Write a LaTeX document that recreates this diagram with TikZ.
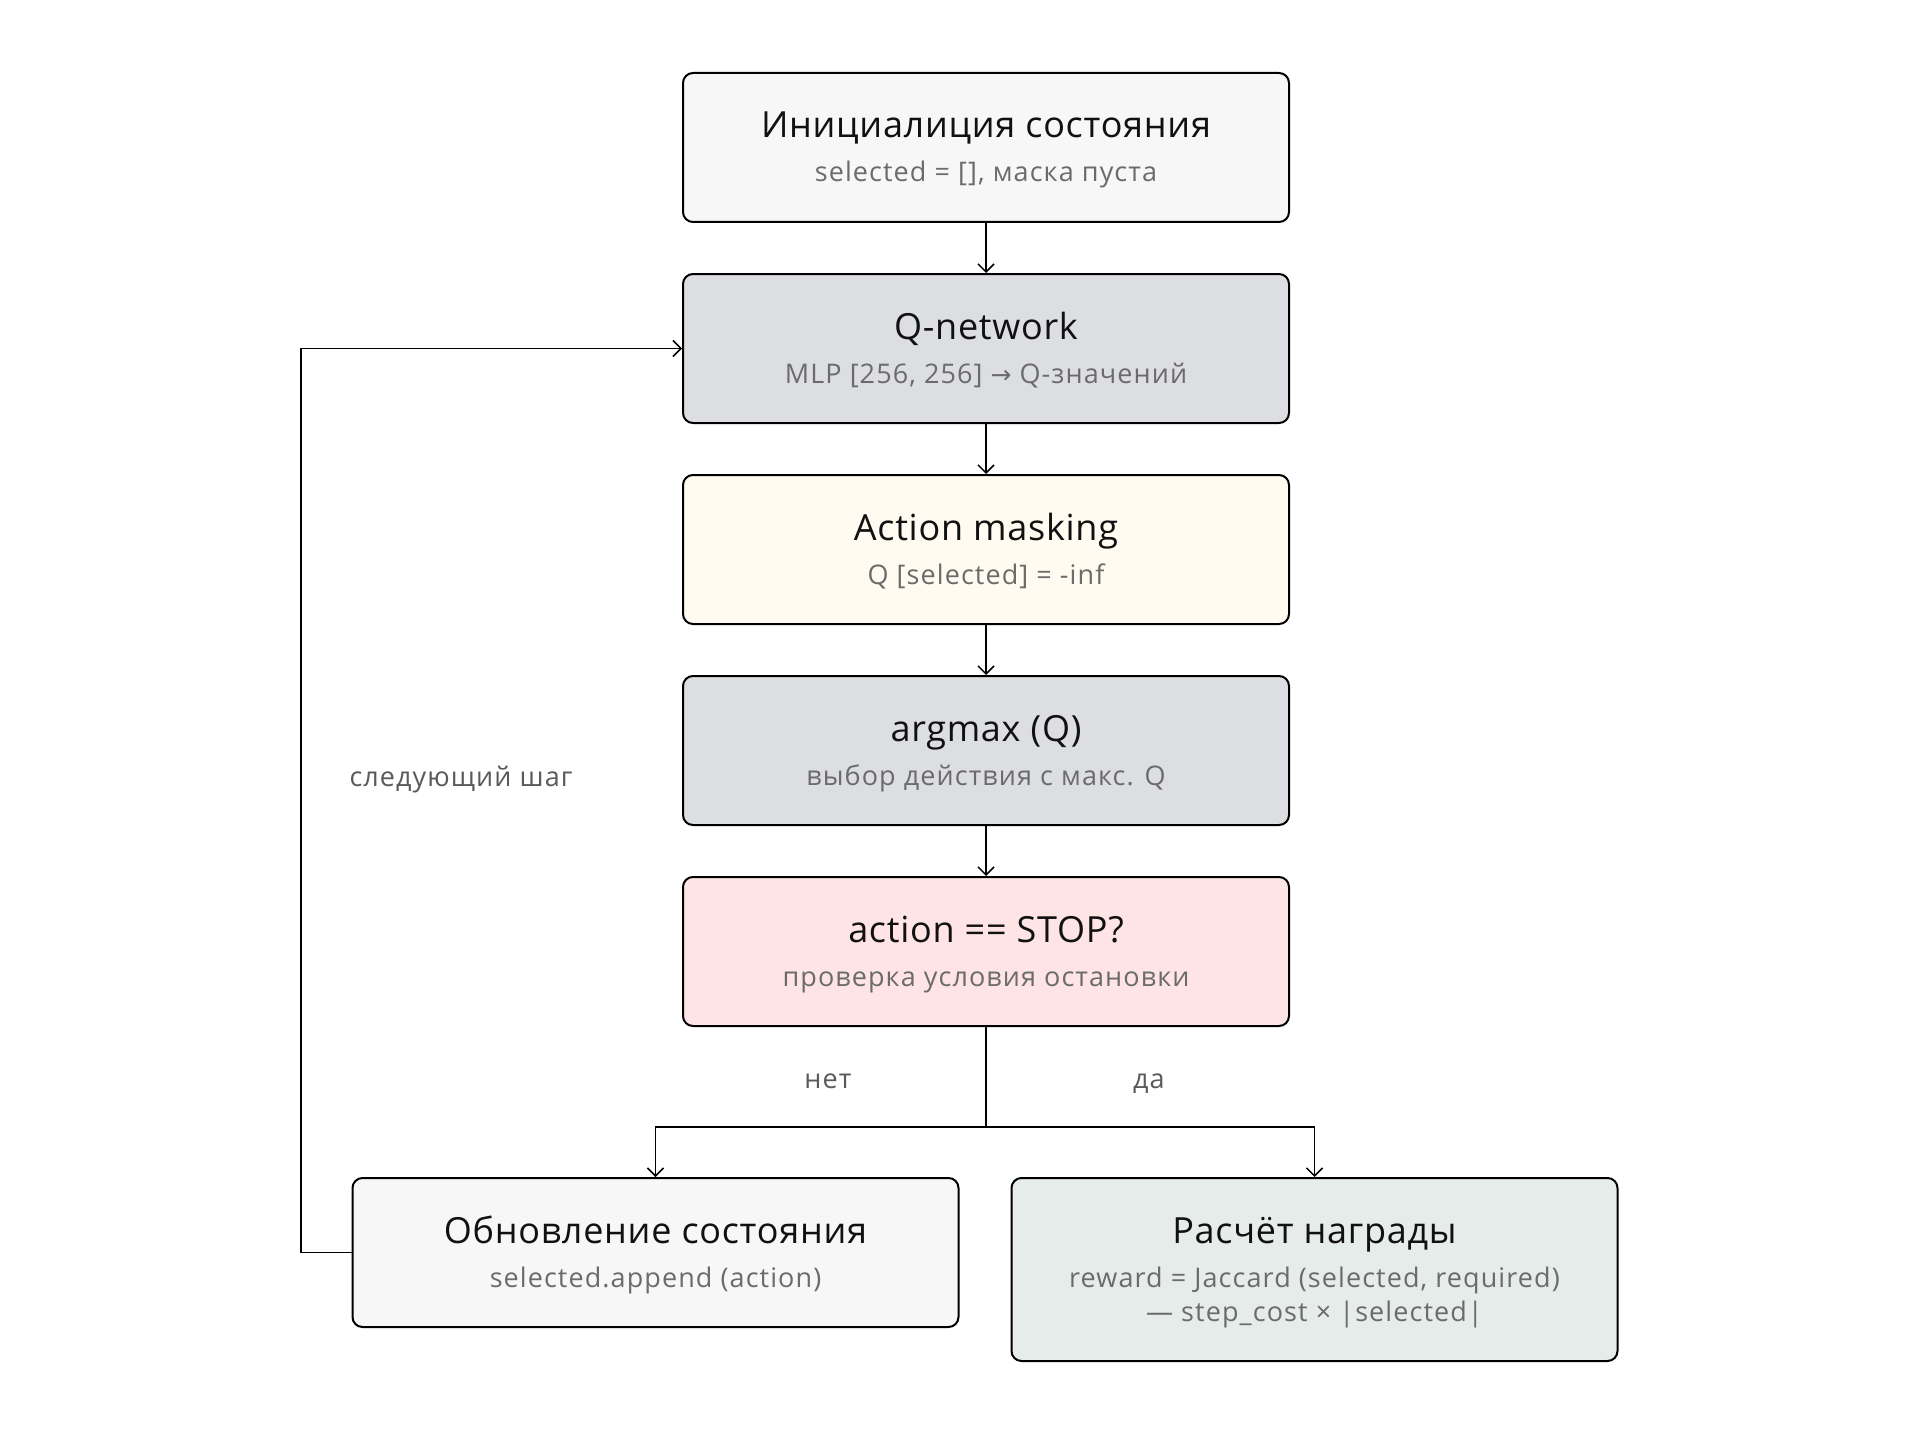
\documentclass[tikz,border=0pt]{standalone}
\usepackage{fontspec}
\setmainfont{Open Sans}
\newfontfamily\ttlfont[LetterSpace=2]{Open Sans}
\newfontfamily\subfont[LetterSpace=4]{Open Sans}
\newfontfamily\symfont{DejaVu Sans}
\usetikzlibrary{arrows.meta,calc}
\definecolor{fillA}{HTML}{F7F7F7}
\definecolor{fillQ}{HTML}{DDDEE2}
\definecolor{fillM}{HTML}{FFFBF0}
\definecolor{fillS}{HTML}{FFE4E6}
\definecolor{fillR}{HTML}{E6ECEA}
\definecolor{subgray}{HTML}{6B6B6B}
\definecolor{lblgray}{HTML}{5A5A5A}
\definecolor{ttlblack}{HTML}{111111}
\tikzset{
  box/.style={draw=black, line width=2pt, rounded corners=10pt, minimum width=606pt, minimum height=149pt, inner sep=0pt},
  ttl/.style={font=\ttlfont\fontsize{36}{40}\selectfont, text=ttlblack, anchor=base, inner sep=0pt},
  sub/.style={font=\subfont\fontsize{27}{30}\selectfont, text=subgray, anchor=base, inner sep=0pt},
  lbl/.style={font=\subfont\fontsize{27}{30}\selectfont, text=lblgray, inner sep=0pt},
  conn/.style={draw=black, line width=1.5pt, -{Straight Barb[length=8pt,width=16pt,line width=1.5pt]}},
  plainline/.style={draw=black, line width=1.5pt}
}
\begin{document}
\begin{tikzpicture}[x=1pt,y=-1pt]
\useasboundingbox[fill=white] (0,0) rectangle (1920,1434);

\node[box, fill=fillA] (init) at (986,147.5) {};
\node[box, fill=fillQ] (qnet) at (986,348.5) {};
\node[box, fill=fillM] (mask) at (986,549.5) {};
\node[box, fill=fillQ] (amax) at (986,750.5) {};
\node[box, fill=fillS] (stop) at (986,951.5) {};
\node[box, fill=fillA] (upd) at (655.5,1252.5) {};
\node[box, fill=fillR, minimum height=183pt] (rew) at (1314.5,1269.5) {};

\node[ttl] (initT) at ($(init.north)+(0,66)$) {Инициалиция состояния};
\node[sub] (initS) at ($(init.north)+(0,110)$) {selected = [], маска пуста};
\node[ttl] (qnetT) at ($(qnet.north)+(0,66)$) {Q-network};
\node[sub] (qnetS) at ($(qnet.north)+(0,110)$) {MLP [256, 256] {\symfont\fontsize{25}{30}\selectfont→} Q-значений};
\node[ttl] (maskT) at ($(mask.north)+(0,66)$) {Action masking};
\node[sub] (maskS) at ($(mask.north)+(0,110)$) {Q [selected] = -inf};
\node[ttl] (amaxT) at ($(amax.north)+(0,66)$) {argmax (Q)};
\node[sub] (amaxS) at ($(amax.north)+(0,110)$) {выбор действия с макс. Q};
\node[ttl] (stopT) at ($(stop.north)+(0,66)$) {action == STOP?};
\node[sub] (stopS) at ($(stop.north)+(0,110)$) {проверка условия остановки};
\node[ttl] (updT) at ($(upd.north)+(0,66)$) {Обновление состояния};
\node[sub] (updS) at ($(upd.north)+(0,110)$) {selected.append (action)};
\node[ttl] (rewT) at ($(rew.north)+(0,66)$) {Расчёт награды};
\node[sub] (rewS1) at ($(rew.north)+(0,110)$) {reward = Jaccard (selected, required)};
\node[sub] (rewS2) at ($(rew.north)+(0,144)$) {— step\_cost × |selected|};

\coordinate (br) at (986,1127);
\coordinate (loopx) at (301,0);

\draw[conn] (init.south) -- (qnet.north);
\draw[conn] (qnet.south) -- (mask.north);
\draw[conn] (mask.south) -- (amax.north);
\draw[conn] (amax.south) -- (stop.north);
\draw[plainline] (stop.south) -- (br);
\draw[conn] (br) -| (upd.north);
\draw[conn] (br) -| (rew.north);
\draw[conn] (upd.west) -- (upd.west -| loopx) -- (loopx |- qnet.west) -- (qnet.west);

\node[lbl] (next) at (461,780) {следующий шаг};
\node[lbl, anchor=base] (no) at (828,1088) {нет};
\node[lbl, anchor=base] (yes) at (1149,1088) {да};
\end{tikzpicture}
\end{document}
